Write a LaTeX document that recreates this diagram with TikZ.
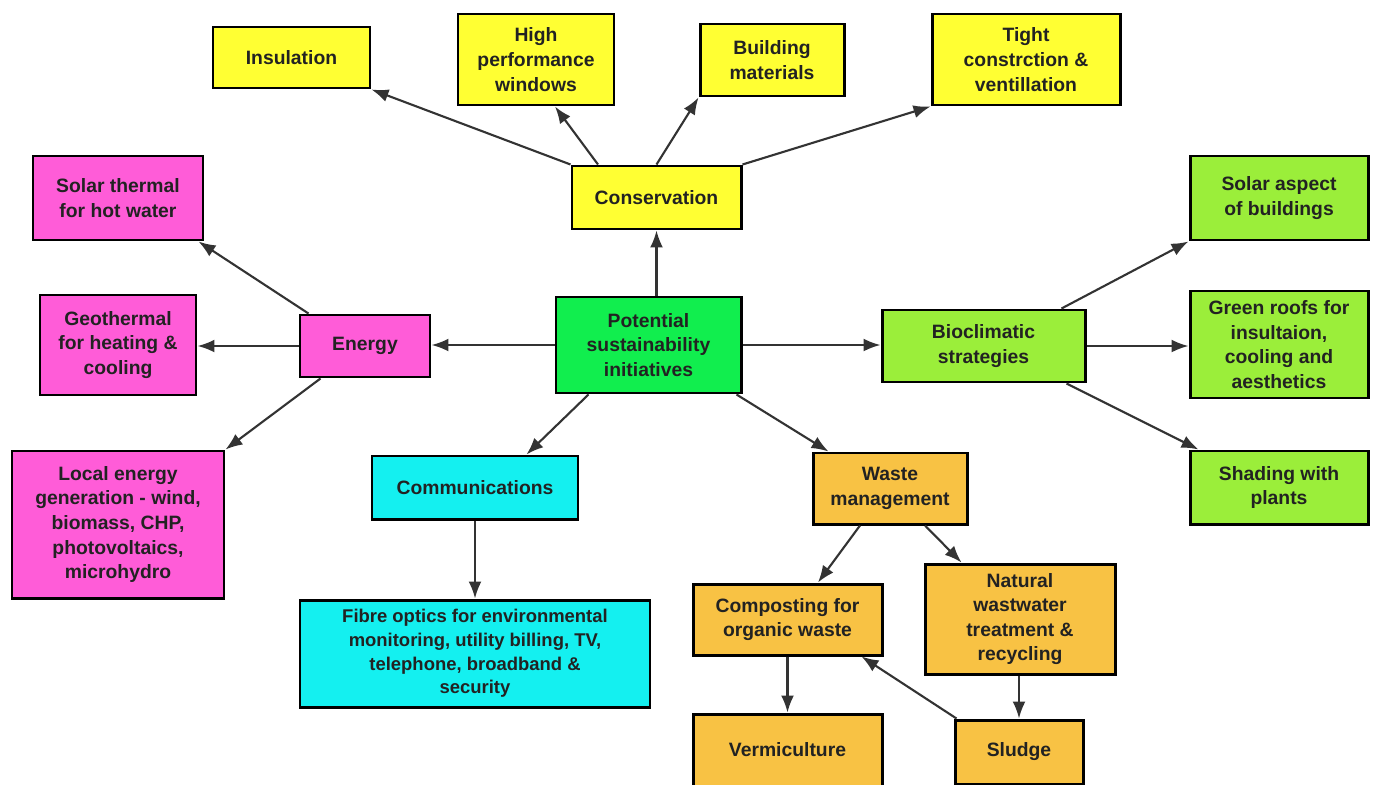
\documentclass[tikz,border=0pt]{standalone}
\usepackage{fontspec}
\setmainfont{Liberation Sans}
\usetikzlibrary{arrows.meta}
\definecolor{cyel}{HTML}{FFFF33}
\definecolor{cmag}{HTML}{FF5CD8}
\definecolor{cgrn}{HTML}{11EE4E}
\definecolor{clgr}{HTML}{9BEE3A}
\definecolor{ccya}{HTML}{14F0F0}
\definecolor{corg}{HTML}{F8C244}
\definecolor{cline}{HTML}{333333}
\definecolor{ctxt}{HTML}{222222}
\tikzset{
  box/.style={draw=black, line width=1.7pt, align=center, inner sep=0pt, text=ctxt,
    font=\fontsize{11}{14}\selectfont\bfseries},
  conn/.style={draw=cline, line width=1.2pt, -{Latex[length=0.34cm,width=0.26cm]}}
}
\begin{document}
\begin{tikzpicture}
\clip (0,0) rectangle (27.5,-15.7);
\fill[white] (0,0) rectangle (27.5,-15.7);
% conservation group
\node[box, fill=cyel, minimum width=3.14cm, minimum height=1.22cm] (ins) at (5.83,-1.15) {Insulation};
\node[box, fill=cyel, minimum width=3.12cm, minimum height=1.82cm] (win) at (10.72,-1.19) {High\\performance\\windows};
\node[box, fill=cyel, minimum width=2.88cm, minimum height=1.44cm] (mat) at (15.44,-1.2) {Building\\materials};
\node[box, fill=cyel, minimum width=3.76cm, minimum height=1.82cm] (tight) at (20.52,-1.19) {Tight\\constrction \&\\ventillation};
\node[box, fill=cyel, minimum width=3.38cm, minimum height=1.26cm] (cons) at (13.13,-3.95) {Conservation};
% energy group
\node[box, fill=cmag, minimum width=3.40cm, minimum height=1.68cm] (solar) at (2.36,-3.96) {Solar thermal\\for hot water};
\node[box, fill=cmag, minimum width=3.12cm, minimum height=2.0cm] (geo) at (2.36,-6.9) {Geothermal\\for heating \&\\cooling};
\node[box, fill=cmag, minimum width=2.6cm, minimum height=1.24cm] (energy) at (7.3,-6.92) {Energy};
\node[box, fill=cmag, minimum width=4.24cm, minimum height=2.94cm] (local) at (2.36,-10.49) {Local energy\\generation - wind,\\biomass, CHP,\\photovoltaics,\\microhydro};
% centre
\node[box, fill=cgrn, minimum width=3.7cm, minimum height=1.92cm] (center) at (12.97,-6.9) {Potential\\sustainability\\initiatives};
% bioclimatic group
\node[box, fill=clgr, minimum width=4.06cm, minimum height=1.44cm] (bio) at (19.67,-6.92) {Bioclimatic\\strategies};
\node[box, fill=clgr, minimum width=3.56cm, minimum height=1.68cm] (sasp) at (25.58,-3.96) {Solar aspect\\of buildings};
\node[box, fill=clgr, minimum width=3.56cm, minimum height=2.14cm] (groof) at (25.58,-6.89) {Green roofs for\\insultaion,\\cooling and\\aesthetics};
\node[box, fill=clgr, minimum width=3.56cm, minimum height=1.46cm] (shade) at (25.58,-9.75) {Shading with\\plants};
% communications
\node[box, fill=ccya, minimum width=4.12cm, minimum height=1.26cm] (comm) at (9.5,-9.75) {Communications};
\node[box, fill=ccya, minimum width=7.0cm, minimum height=2.14cm, font=\fontsize{10.5}{13.5}\selectfont\bfseries] (fibre) at (9.5,-13.07) {Fibre optics for environmental\\monitoring, utility billing, TV,\\telephone, broadband \&\\security};
% waste
\node[box, fill=corg, minimum width=3.08cm, minimum height=1.42cm] (waste) at (17.8,-9.77) {Waste\\management};
\node[box, fill=corg, minimum width=3.78cm, minimum height=1.42cm] (comp) at (15.75,-12.39) {Composting for\\organic waste};
\node[box, fill=corg, minimum width=3.8cm, minimum height=2.2cm] (nat) at (20.4,-12.38) {Natural\\wastwater\\treatment \&\\recycling};
\node[box, fill=corg, minimum width=3.78cm, minimum height=1.44cm] (verm) at (15.75,-15.0) {Vermiculture};
\node[box, fill=corg, minimum width=2.56cm, minimum height=1.28cm] (sludge) at (20.38,-15.04) {Sludge};
% connectors
\draw[conn] (cons.north west) -- (ins.south east);
\draw[conn] ([xshift=-1.17cm]cons.north) -- ([xshift=0.38cm]win.south);
\draw[conn] (cons.north) -- (mat.south west);
\draw[conn] (cons.north east) -- (tight.south west);
\draw[conn] (cons.south |- center.north) -- (cons.south);
\draw[conn] (center.west) -- (center.west -| energy.east);
\draw[conn] ([xshift=0.2cm]energy.north west) -- ([xshift=-0.12cm]solar.south east);
\draw[conn] (energy.west) -- (energy.west -| geo.east);
\draw[conn] ([xshift=0.44cm]energy.south west) -- (local.north east);
\draw[conn] (center.east) -- (center.east -| bio.west);
\draw[conn] ([xshift=-0.5cm]bio.north east) -- (sasp.south west);
\draw[conn] (bio.east) -- (bio.east -| groof.west);
\draw[conn] ([xshift=-0.4cm]bio.south east) -- ([xshift=0.2cm]shade.north west);
\draw[conn] ([xshift=0.68cm]center.south west) -- ([xshift=-1.06cm]comm.north east);
\draw[conn] ([xshift=-0.12cm]center.south east) -- ([xshift=0.34cm]waste.north west);
\draw[conn] (comm.south) -- (fibre.north);
\draw[conn] ([xshift=-0.6cm]waste.south) -- ([xshift=0.61cm]comp.north);
\draw[conn] ([xshift=0.7cm]waste.south) -- ([xshift=0.76cm]nat.north west);
\draw[conn] (comp.south) -- (verm.north);
\draw[conn] (sludge.north |- nat.south) -- (sludge.north);
\draw[conn] ([xshift=0.06cm]sludge.north west) -- ([xshift=-0.44cm]comp.south east);
\end{tikzpicture}
\end{document}
